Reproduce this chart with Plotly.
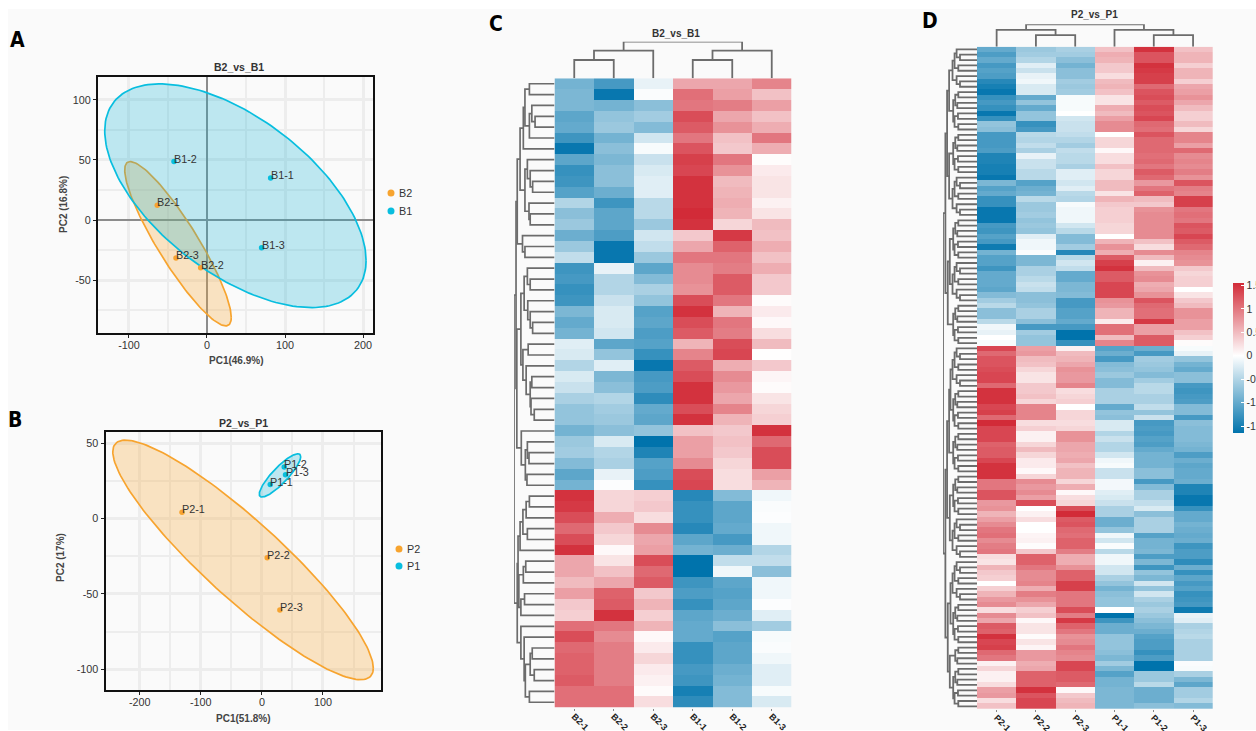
import numpy as np
import plotly.graph_objects as go

W, H = 1256, 731

# ---------- PCA data ----------
A_B2_NAMES = ["B2-1", "B2-2", "B2-3"]
A_B2_PC1 = [-63.7, -8.1, -39.7]
A_B2_PC2 = [12.2, -39.7, -31.7]
A_B1_NAMES = ["B1-1", "B1-2", "B1-3"]
A_B1_PC1 = [81.6, -42.3, 70.0]
A_B1_PC2 = [35.0, 48.6, -23.0]
B_P2_NAMES = ["P2-1", "P2-2", "P2-3"]
B_P2_PC1 = [-130.7, 8.7, 29.5]
B_P2_PC2 = [4.2, -26.0, -60.7]
B_P1_NAMES = ["P1-1", "P1-2", "P1-3"]
B_P1_PC1 = [13.7, 36.6, 38.7]
B_P1_PC2 = [22.5, 34.2, 29.1]

A_XTICKS = [-100, 0, 100, 200]
A_XMINOR = [-50, 50, 150]
A_YTICKS = [-50, 0, 50, 100]
A_YMINOR = [-75, -25, 25, 75]
B_XTICKS = [-200, -100, 0, 100]
B_XMINOR = [-150, -50, 50, 150]
B_YTICKS = [-100, -50, 0, 50]
B_YMINOR = [-75, -25, 25]

# ---------- Heatmap data ----------
C_SAMPLES = ["B2-1", "B2-2", "B2-3", "B1-1", "B1-2", "B1-3"]
C_VALUES = [
    [-.9, -1.2, -.15, .65, .65, .9], [-.85, -1.6, -.03, 1.05, .7, .45], [-.85, -.9, -.75, 1.0, .95, .7],
    [-1.05, -.7, -.6, 1.3, .65, .45], [-1.0, -.65, -.8, 1.2, .8, .6], [-1.25, -.9, -.3, 1.0, .45, 1.0],
    [-1.6, -.75, -.05, 1.25, .4, .6], [-1.05, -.85, -.35, 1.4, 1.0, .02], [-1.3, -.75, -.25, 1.35, .8, .15],
    [-1.25, -.75, -.2, 1.5, .5, .2], [-1.1, -.95, -.2, 1.5, .55, .2], [-.5, -1.25, -.45, 1.5, .6, .1],
    [-.75, -1.05, -.45, 1.55, .55, .2], [-.65, -1.05, -.65, 1.5, .3, .5], [-.95, -1.15, -.3, .4, 1.45, .45],
    [-.65, -1.6, -.4, .65, 1.15, .6], [-.4, -1.6, -.65, 1.0, 1.0, .45], [-1.25, -.15, -1.05, .85, .95, .6],
    [-1.2, -.5, -.8, .85, 1.2, .4], [-1.3, -.5, -.55, .8, 1.2, .4], [-1.25, -.35, -.7, 1.3, 1.0, .03],
    [-.85, -.25, -1.1, 1.5, .55, .15], [-1.0, -.25, -1.05, 1.3, 1.0, .05], [-.9, -.3, -1.15, 1.2, .95, .25],
    [-.2, -1.05, -1.1, .55, 1.3, .5], [-.25, -.7, -1.3, .9, 1.35, .01], [-.5, -.2, -1.6, 1.2, .6, .4],
    [-.25, -.85, -1.2, 1.3, .85, .07], [-.35, -.75, -1.15, 1.5, .75, .03], [-.55, -.5, -1.35, 1.5, .65, .2],
    [-.7, -.6, -1.0, 1.3, .9, .3], [-.7, -.65, -1.05, 1.5, .55, .35], [-.9, -.75, -.7, .45, .4, 1.5],
    [-.65, -.25, -1.65, .7, .45, 1.1], [-.6, -.5, -1.45, .7, .4, 1.3], [-.8, -.55, -1.1, .85, .3, 1.3],
    [-1.05, -.15, -1.15, 1.3, .25, .7], [-.9, -.02, -1.3, 1.35, .25, .55], [1.5, .3, .35, -1.4, -.8, -.1],
    [1.45, .3, .4, -1.3, -1.05, -.03], [1.3, .6, .25, -1.3, -1.05, -.02], [1.1, .4, .85, -1.4, -1.0, -.1],
    [1.3, .3, .65, -1.05, -1.2, -.1], [1.5, .05, .7, -.9, -.95, -.5], [.65, .2, 1.3, -1.65, -.4, -.4],
    [.65, .45, 1.1, -1.65, -.1, -.75], [.5, .65, 1.2, -1.25, -1.05, -.1], [.7, 1.15, .4, -1.15, -1.1, -.1],
    [.4, 1.2, .55, -1.3, -1.05, -.02], [.35, 1.5, .35, -1.05, -.95, -.2], [1.05, 1.0, .55, -1.0, -.75, -.6],
    [1.3, .85, .05, -1.0, -1.1, -.05], [1.1, .95, .15, -1.3, -1.05, -.03], [1.15, .95, .3, -1.3, -1.05, -.1],
    [1.15, .95, .15, -1.2, -.95, -.2], [1.2, .95, .1, -1.25, -.9, -.2], [1.05, 1.05, .03, -1.5, -.8, -.05],
    [1.05, 1.05, .25, -1.35, -.8, -.25],
]

D_SAMPLES = ["P2-1", "P2-2", "P2-3", "P1-1", "P1-2", "P1-3"]
D_VALUES = [
    [-1.0, -.65, -.55, .45, 1.5, .45], [-1.15, -.6, -.6, .6, 1.25, .55], [-1.0, -.5, -.75, .55, 1.25, .55],
    [-1.2, -.2, -.9, .4, 1.5, .35], [-1.1, -.35, -.75, .4, 1.45, .55], [-1.15, -.15, -.75, .25, 1.4, .55],
    [-1.4, -.1, -.6, .5, 1.4, .35], [-1.5, -.25, -.65, .55, 1.1, .65], [-1.6, -.25, -.6, .45, 1.25, .7],
    [-1.3, -1.0, -.05, .2, 1.3, .8], [-1.2, -.7, -.05, .2, 1.2, .65], [-1.3, -1.0, -.05, .6, 1.3, .5],
    [-1.6, -.7, 0, .5, 1.25, .35], [-1.3, -.7, -.3, .7, 1.35, .35], [-.7, -1.3, -.35, .85, 1.1, .5],
    [-.75, -1.2, -.35, .85, 1.05, .3], [-1.2, -.45, -.4, 0, 1.25, .9], [-1.2, -.5, -.5, .3, 1.1, .9],
    [-1.2, -.4, -.6, .3, 1.1, .7], [-1.15, -.55, -.4, .05, 1.1, 1.1], [-1.45, -.15, -.45, .25, 1.05, .85],
    [-1.45, -.35, -.45, .25, 1.1, .9], [-1.5, -.35, -.55, .45, 1.0, .85], [-1.5, -.45, -.2, .3, 1.2, .95],
    [-1.6, -.45, -.2, .3, 1.1, .8], [-.85, -1.1, -.3, .5, .75, 1.25], [-1.1, -.95, -.2, .5, 1.0, .95],
    [-1.0, -.9, -.45, .2, 1.15, .9], [-1.3, -.45, -.5, .55, .5, 1.4], [-1.3, -.65, -.05, .4, .4, 1.4],
    [-1.6, -.65, -.1, .35, .8, 1.0], [-1.6, -.6, -.1, .35, .85, 1.05], [-1.6, -.7, -.1, .35, .85, 1.0],
    [-1.2, -.65, -.3, .3, .85, 1.25], [-1.25, -.7, -.45, .3, .85, 1.2], [-1.1, -.2, -.8, 0, .85, 1.35],
    [-1.2, -.1, -.8, .55, .45, 1.2], [-1.55, -.1, -.6, .8, .25, 1.1], [-.9, -.03, -1.4, .6, .85, .9],
    [-1.1, -.85, -.45, 1.2, .5, .85], [-1.1, -.85, -.3, 1.4, .1, .8], [-1.25, -.55, -.4, 1.5, .5, .4],
    [-1.0, -.55, -1.0, 1.2, .8, .3], [-1.0, -.45, -1.0, 1.2, .85, .35], [-1.0, -.35, -.85, 1.35, .6, .35],
    [-1.05, -.4, -.85, 1.35, .65, 0], [-.8, -.75, -.8, 1.35, .8, .2], [-.6, -.75, -1.2, .8, 1.25, .4],
    [-.45, -.7, -1.2, .75, 1.1, .5], [-.75, -.55, -1.1, .55, 1.05, .8], [-.75, -.55, -1.1, .55, 1.05, .8],
    [-.45, -.75, -1.0, .15, 1.45, .7], [-.1, -1.2, -1.2, 1.05, .7, .7], [-.15, -.6, -1.65, 1.05, .7, .45],
    [0, -.7, -1.65, .5, 1.2, .35], [-.05, -.7, -1.3, .9, 1.2, .03], [1.35, .7, .1, -1.1, -.95, -.05],
    [1.1, .75, .5, -.95, -1.2, -.15], [1.25, .5, .55, -1.2, -.6, -.7], [1.25, .45, .65, -.8, -.65, -.9],
    [1.3, .3, .8, -.75, -.7, -1.0], [1.35, .2, .75, -.65, -.8, -.75], [1.35, .2, .75, -.8, -.6, -.75],
    [1.1, .4, .9, -.8, -.45, -1.2], [1.5, .4, .25, -.55, -.45, -1.25], [1.5, .45, .3, -.55, -.55, -1.2],
    [1.5, .3, .35, -.55, -.55, -1.15], [1.35, .9, 0, -1.0, -.4, -.8], [1.4, .9, .3, -.7, -.7, -.8],
    [1.1, .9, .3, -.75, -.35, -1.2], [1.55, .25, .25, -.25, -1.2, -.75], [1.35, .35, .3, -.25, -1.15, -.8],
    [1.35, .1, .8, -.5, -1.2, -.8], [1.35, .1, .8, -.35, -1.1, -.8], [1.15, .3, .65, -.5, -1.15, -.85],
    [1.2, .5, .65, -.5, -1.0, -.9], [1.2, .3, .6, -.3, -.9, -1.15], [1.35, .15, .65, -.1, -.9, -.95],
    [1.5, .15, .45, -.05, -.9, -1.05], [1.5, .05, .55, -.35, -.75, -1.0], [1.5, .3, .55, -.35, -.75, -1.0],
    [1.0, .85, .3, -.08, -1.2, -.95], [1.0, .75, .6, -.08, -.8, -1.45], [1.25, .85, .05, -.2, -.55, -1.45],
    [1.25, .7, .25, -.25, -.55, -1.6], [.75, 1.3, .3, -.35, -.4, -1.6], [.8, 0, 1.3, -.55, -.25, -1.3],
    [.55, .1, 1.55, -.55, -.75, -1.0], [.7, .25, 1.2, -.95, -.55, -1.0], [.85, 0, 1.25, -.95, -.55, -.9],
    [1.0, 0, 1.1, -.7, -.55, -.95], [1.05, .08, 1.05, -.1, -1.1, -1.0], [.85, .1, 1.15, -.3, -.9, -.95],
    [.95, .02, 1.15, -.03, -.9, -1.25], [1.0, .4, .95, -.45, -.85, -1.15], [.25, 1.15, .6, -.1, -1.15, -1.15],
    [.2, 1.15, .6, -.1, -.85, -1.35], [.55, 1.0, .8, -.3, -1.25, -.95], [.4, .85, 1.15, -.3, -.7, -1.3],
    [.35, .85, 1.15, -.55, -.85, -1.05], [0, .9, 1.4, -.7, -.3, -1.2], [.35, .6, 1.4, -.9, -.7, -1.1],
    [.55, .95, 1.0, -.75, -.3, -1.3], [.75, .8, 1.0, -.7, -.55, -1.25], [.85, .65, 1.0, -.7, -.65, -1.2],
    [.25, .35, 1.3, 0, -.55, -1.55], [.85, .45, .95, -1.75, -.65, -.15], [.65, .05, 1.45, -1.25, -.75, -.2],
    [1.2, .2, 1.15, -.95, -.85, -.55], [1.15, .2, 1.0, -.95, -.95, -.5], [1.5, .03, .8, -.7, -1.1, -.45],
    [1.35, .2, .85, -.7, -1.15, -.55], [1.4, .08, 1.0, -.7, -1.15, -.55], [1.1, .75, .9, -.75, -1.3, -.55],
    [1.0, .75, .85, -.85, -1.15, -.55], [.1, .6, 1.35, -.6, -1.65, -.03], [.3, .65, 1.35, -.85, -1.65, -.05],
    [.1, 1.15, 1.2, -1.1, -.65, -.55], [.1, 1.15, 1.2, -.9, -.65, -.85], [.25, 1.15, 1.1, -.9, -.45, -1.05],
    [.7, 1.5, .05, -.85, -.95, -.6], [.75, 1.25, .4, -.85, -.95, -.6], [.25, 1.35, .5, -.85, -.95, -.5],
    [.45, 1.35, .55, -.85, -.75, -.8],
]

# Dendrograms: [height, left, right]; 0 marks a leaf
C_COL_TREE = [1.0, [.755, [.5, 0, 0], 0], [.755, [.5, 0, 0], 0]]
D_COL_TREE = [1.0, [.75, 0, [.52, 0, 0]], [.75, 0, [.52, 0, 0]]]

_g1 = [.77, [.73, [.62, 0, 0], [.62, [.56, 0, [.48, 0, 0]], 0]], 0]
_g2 = [.73, [.67, 0, [.6, 0, [.54, 0, 0]]], [.63, 0, [.6, 0, 0]]]
_g3 = [.79, 0, [.73, 0, 0]]
_g4 = [.67, 0, [.6, 0, 0]]
_g5 = [.66, 0, [.6, 0, [.54, 0, 0]]]
_g6 = [.65, 0, 0]
_g7 = [.7, 0, [.6, [.56, 0, 0], [.58, 0, [.5, 0, 0]]]]
_g8 = [.82, 0, [.72, [.67, 0, [.63, 0, 0]], [.68, 0, 0]]]
_b1 = [.85, [.78, [.7, [.62, 0, 0], 0], [.67, 0, 0]], 0]
_b2 = [.88, [.77, [.71, 0, 0], 0], [.83, [.74, 0, 0], 0]]
_b3 = [.83, 0, [.75, 0, [.72, [.6, [.55, 0, 0], [.5, 0, 0]], [.62, 0, 0]]]]
C_ROW_TREE = [1.0,
              [.95, [.92, [.85, _g1, _g2], _g3],
               [.93, [.83, [.75, _g4, _g5], [.78, _g6, _g7]], _g8]],
              [.92, [.9, _b1, _b2], _b3]]

_p = [.55, 0, 0]
_t = [.6, 0, [.5, 0, 0]]
_c = [.66, _t, _p]
_d = [.64, _p, [.58, 0, 0]]
_e = [.72, _c, _t]
_f = [.7, _d, [.66, [.56, 0, 0], _p]]
D_ROW_TREE = [1.0,
              [.93, [.88, [.82, _e, _f], [.82, _f, _e]], [.86, [.8, _f, _e], _f]],
              [.93, [.88, [.82, [.78, _e, _f], _f], [.8, _f, _e]],
               [.86, [.78, _e, _f], [.8, _d, _f]]]]

COLORBAR_TICKS = [-1.5, -1, -0.5, 0, 0.5, 1, 1.5]
COLORBAR_LABELS = ["-1.5", "-1", "-0.5", "0", "0.5", "1", "1.5"]

# ---------- Styles ----------
ORANGE = "#F7A42F"
CYAN = "#08BEDF"
ORANGE_FILL = "rgba(247,164,47,0.28)"
CYAN_FILL = "rgba(8,175,210,0.25)"
GRID = "#EDEDED"
TREE_COLOR = "#6C6C6C"
ZMIN, ZMAX = -1.65, 1.55
COLORSCALE = [[0, "#0073AC"], [(0 - ZMIN) / (ZMAX - ZMIN), "#FFFFFF"], [1, "#D22B38"]]
FONT = "Liberation Sans"


def px(x):
    return x / W


def py(y):
    return 1 - y / H


def dom_x(a, b):
    return [px(a), px(b)]


def dom_y(top, bottom):
    return [py(bottom), py(top)]


def ellipse(xs, ys):
    cov = np.cov(np.array(xs), np.array(ys))
    L = np.linalg.cholesky(cov)
    t = np.linspace(0, 2 * np.pi, 181)
    r = np.sqrt(5.991)
    pts = r * L @ np.vstack([np.cos(t), np.sin(t)])
    return pts[0] + np.mean(xs), pts[1] + np.mean(ys)


def tree_lines(tree):
    pos_list, h_list = [], []
    counter = [0]

    def walk(n):
        if n == 0:
            counter[0] += 1
            return counter[0] - 1, 0.0
        h, a, b = n
        p1, h1 = walk(a)
        p2, h2 = walk(b)
        pos_list.extend([p1, p1, p2, p2, None])
        h_list.extend([h1, h, h, h2, None])
        return (p1 + p2) / 2, h

    walk(tree)
    return pos_list, h_list, counter[0]


fig = go.Figure()
layout = dict(
    width=W, height=H, margin=dict(l=0, r=0, t=0, b=0, autoexpand=False),
    paper_bgcolor="#FFFFFF", plot_bgcolor="rgba(0,0,0,0)",
    font=dict(family=FONT, color="#333333", size=10.5), showlegend=False,
)
shapes = [dict(type="rect", xref="paper", yref="paper", x0=px(8), x1=1, y0=py(730), y1=py(9),
               fillcolor="#FAFAFA", line_width=0, layer="below")]
annotations = []


def text(x, y, s, size=10.5, bold=False, color="#333333", angle=0, family=FONT, xanchor="center"):
    annotations.append(dict(xref="paper", yref="paper", x=px(x), y=py(y), text=f"<b>{s}</b>" if bold else s,
                            showarrow=False, font=dict(size=size, color=color, family=family),
                            textangle=angle, xanchor=xanchor, yanchor="middle"))


def pca_axes(n, dx, dy, xr, yr, xt, xm, yt, ym, zero):
    def ax(dom, rng, ticks, minor, anchor, zeroline):
        return dict(domain=dom, range=rng, anchor=anchor, tickvals=ticks, ticktext=[str(v) for v in ticks],
                    showgrid=True, gridcolor=GRID, gridwidth=3,
                    minor=dict(tickvals=minor, showgrid=True, gridcolor=GRID, gridwidth=2, ticks=""),
                    showline=True, mirror=True, linecolor="#111111", linewidth=2,
                    ticks="outside", ticklen=3, tickcolor="#222222", tickwidth=1,
                    tickfont=dict(size=10.8, color="#333333", family=FONT),
                    zeroline=zeroline, zerolinecolor="#8C8C8C", zerolinewidth=2)
    layout[f"xaxis{n}"] = ax(dx, xr, xt, xm, f"y{n}", zero)
    layout[f"xaxis{n}"]["ticklabelstandoff"] = -2
    layout[f"yaxis{n}"] = ax(dy, yr, yt, ym, f"x{n}", zero)


def pca_panel(n, groups):
    for names, xs, ys, color, fill, label in groups:
        ex, ey = ellipse(xs, ys)
        fig.add_trace(go.Scatter(x=ex, y=ey, mode="lines", fill="toself", fillcolor=fill,
                                 line=dict(color=color, width=1.7), xaxis=f"x{n}", yaxis=f"y{n}",
                                 hoverinfo="skip", name=f"{label} ellipse"))
    for names, xs, ys, color, fill, label in groups:
        fig.add_trace(go.Scatter(x=xs, y=ys, mode="markers", marker=dict(color=color, size=5.5),
                                 text=names, xaxis=f"x{n}", yaxis=f"y{n}", name=label))
        for nm, a, b in zip(names, xs, ys):
            annotations.append(dict(xref=f"x{n}", yref=f"y{n}", x=a, y=b, text=nm, showarrow=False,
                                    xanchor="left", yanchor="middle", xshift=-2, yshift=3,
                                    font=dict(size=10.8, color="#333333", family=FONT)))


def legend_item(x, y, color, label):
    shapes.append(dict(type="circle", xref="paper", yref="paper", x0=px(x - 3.5), x1=px(x + 3.5),
                       y0=py(y + 3.5), y1=py(y - 3.5), fillcolor=color, line_width=0))
    text(x + 6, y, label, size=10.8, xanchor="left")


# Panel A
pca_axes(1, dom_x(98, 373), dom_y(77, 333), [-139.7, 212.8], [-94, 119],
         A_XTICKS, A_XMINOR, A_YTICKS, A_YMINOR, True)
pca_panel(1, [(A_B2_NAMES, A_B2_PC1, A_B2_PC2, ORANGE, ORANGE_FILL, "B2"),
              (A_B1_NAMES, A_B1_PC1, A_B1_PC2, CYAN, CYAN_FILL, "B1")])
# Panel B
pca_axes(2, dom_x(105.5, 381), dom_y(432, 690), [-256, 195], [-113.8, 57.4],
         B_XTICKS, B_XMINOR, B_YTICKS, B_YMINOR, False)
pca_panel(2, [(B_P2_NAMES, B_P2_PC1, B_P2_PC2, ORANGE, ORANGE_FILL, "P2"),
              (B_P1_NAMES, B_P1_PC1, B_P1_PC2, CYAN, CYAN_FILL, "P1")])

text(239, 67, "B2_vs_B1", size=10.5, bold=True)
text(243, 423, "P2_vs_P1", size=10.5, bold=True)
text(236, 360, "PC1(46.9%)", size=10, bold=True, color="#444444")
text(63, 205, "PC2 (16.8%)", size=10, bold=True, color="#444444", angle=-90)
text(243, 718, "PC1(51.8%)", size=10, bold=True, color="#444444")
text(60, 558, "PC2 (17%)", size=10, bold=True, color="#444444", angle=-90)
legend_item(391, 193, ORANGE, "B2")
legend_item(391, 211, CYAN, "B1")
legend_item(399, 549, ORANGE, "P2")
legend_item(399, 566, CYAN, "P1")


def heat_panel(n, samples, values, row_tree, col_tree, hx, hy, row_left, col_top, colorbar, tree_width):
    rows = len(values)
    m, rx, cy = n, n + 1, n + 2
    layout[f"xaxis{m}"] = dict(domain=dom_x(*hx), range=[-.5, 5.5], anchor=f"y{m}", tickvals=list(range(6)),
                               ticktext=[f"<b>{s}</b>" for s in samples], tickangle=45, ticks="outside", ticklen=2,
                               ticklabelstandoff=-3, tickcolor="#888888",
                               tickfont=dict(size=9, color="#222222", family=FONT),
                               showgrid=False, zeroline=False, showline=False)
    layout[f"yaxis{m}"] = dict(domain=dom_y(*hy), range=[rows - .5, -.5], anchor=f"x{m}", visible=False)
    layout[f"xaxis{rx}"] = dict(domain=dom_x(row_left, hx[0]), range=[1, 0], anchor=f"y{m}", visible=False)
    layout[f"yaxis{cy}"] = dict(domain=dom_y(col_top, hy[0]), range=[0, 1], anchor=f"x{m}", visible=False)
    hm = dict(x=list(range(6)), y=list(range(rows)), z=values, zmin=ZMIN, zmax=ZMAX, colorscale=COLORSCALE,
              xaxis=f"x{m}", yaxis=f"y{m}", showscale=colorbar is not None)
    if colorbar:
        hm["colorbar"] = colorbar
    fig.add_trace(go.Heatmap(**hm))
    rp, rh, nr = tree_lines(row_tree)
    assert nr == rows, (nr, rows)
    fig.add_trace(go.Scatter(x=rh, y=rp, mode="lines", line=dict(color=TREE_COLOR, width=tree_width),
                             xaxis=f"x{rx}", yaxis=f"y{m}", hoverinfo="skip"))
    cp, ch, nc = tree_lines(col_tree)
    fig.add_trace(go.Scatter(x=cp, y=ch, mode="lines", line=dict(color=TREE_COLOR, width=1.8),
                             xaxis=f"x{m}", yaxis=f"y{cy}", hoverinfo="skip"))


CB_TOP, CB_BOTTOM, CB_LEFT, CB_RIGHT = 283.3, 433.0, 1233.3, 1244.7
colorbar = dict(x=px(CB_LEFT), xanchor="left", xpad=0, ypad=0, thickness=CB_RIGHT - CB_LEFT, thicknessmode="pixels",
                lenmode="pixels", len=CB_BOTTOM - CB_TOP, y=py((CB_TOP + CB_BOTTOM) / 2), yanchor="middle",
                outlinewidth=0, tickvals=COLORBAR_TICKS, ticktext=COLORBAR_LABELS, ticks="inside", ticklen=3,
                tickcolor="#FFFFFF", tickwidth=1, tickfont=dict(size=10.5, color="#333333", family=FONT))
heat_panel(3, C_SAMPLES, C_VALUES, C_ROW_TREE, C_COL_TREE, (554.5, 791.5), (78.3, 707.7), 514, 41.7, None, 1.7)
heat_panel(6, D_SAMPLES, D_VALUES, D_ROW_TREE, D_COL_TREE, (977, 1212.7), (46.7, 709), 943, 24.3, colorbar, 1.8)
for v in COLORBAR_TICKS:
    yy = CB_BOTTOM - (v - ZMIN) / (ZMAX - ZMIN) * (CB_BOTTOM - CB_TOP)
    shapes.append(dict(type="line", xref="paper", yref="paper", x0=px(CB_LEFT), x1=px(CB_LEFT + 3), y0=py(yy), y1=py(yy),
                       line=dict(color="#FFFFFF", width=1)))

text(676, 34, "B2_vs_B1", size=10, bold=True)
text(1094, 15, "P2_vs_P1", size=10, bold=True)

for letter, x, y in [("A", 17, 40), ("B", 15, 420), ("C", 496, 24), ("D", 930, 21)]:
    text(x, y, letter, size=21, bold=True, color="#000000", family="DejaVu Sans Condensed, Roboto, Liberation Sans")

layout["shapes"] = shapes
layout["annotations"] = annotations
fig.update_layout(**layout)
fig.write_html("out.html", config={"displayModeBar": False},
               post_script="document.body.style.margin='0';document.documentElement.style.overflow='hidden';")
